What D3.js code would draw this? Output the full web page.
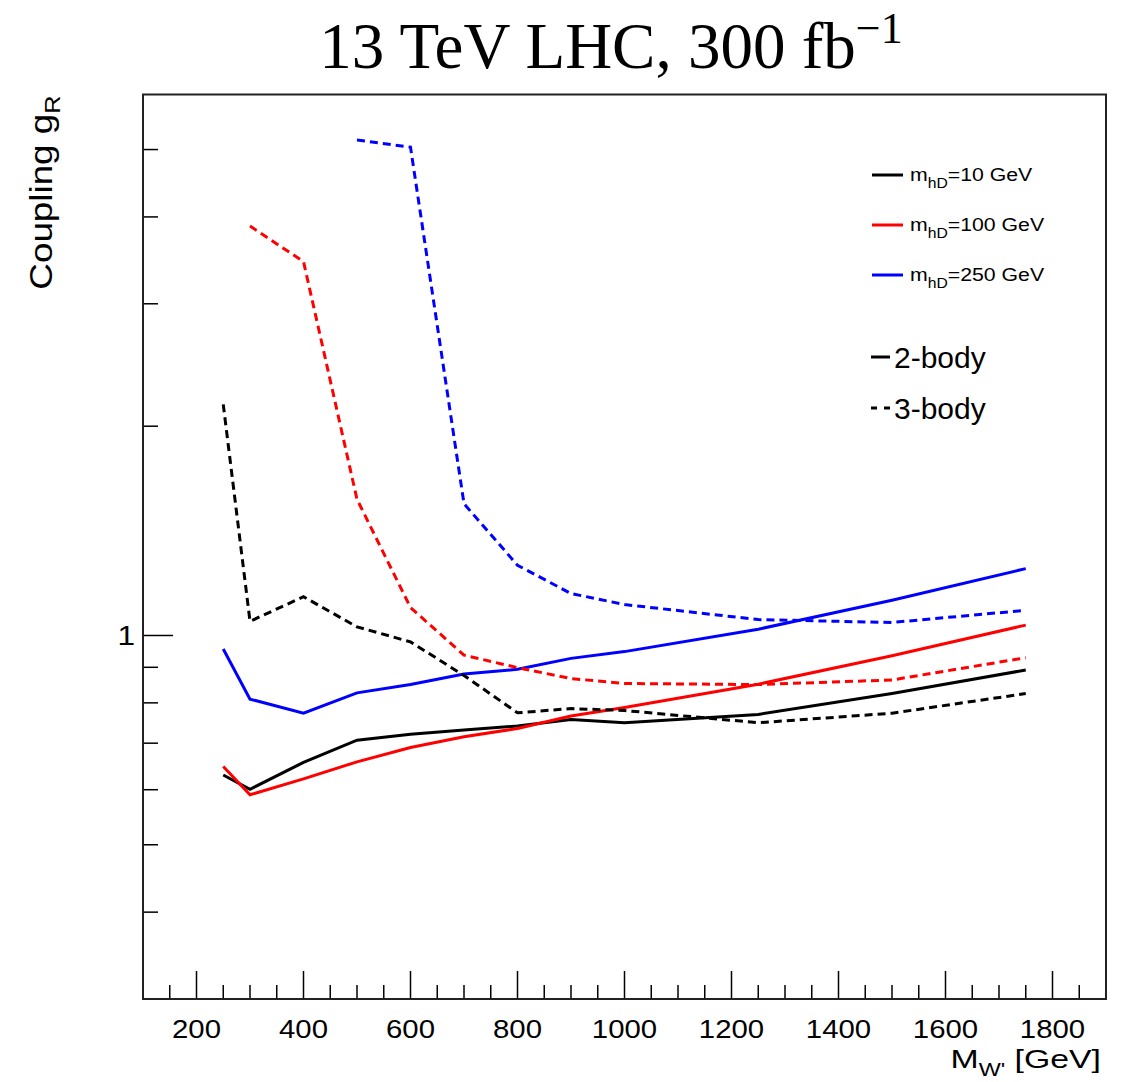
<!DOCTYPE html>
<html>
<head>
<meta charset="utf-8">
<script src="https://cdn.jsdelivr.net/npm/d3@7"></script>
<style>
  body { margin: 0; background: #fff; }
  svg text { font-family: "Liberation Sans", Arial, Helvetica, sans-serif; }
</style>
</head>
<body>
<svg id="chart"></svg>
<script>
const width = 1124;
const height = 1082;
const frame = { left: 143, right: 1106, top: 94.5, bottom: 999 };

// W' mass points (GeV)
const mass2body = [250, 300, 400, 500, 600, 700, 800, 900, 1000, 1250, 1500, 1750];
const mass10_3body = [250, 300, 400, 500, 600, 700, 800, 900, 1000, 1250, 1500, 1750];
const mass100_3body = [300, 400, 500, 600, 700, 800, 900, 1000, 1250, 1500, 1750];
const mass250_3body = [500, 600, 700, 800, 900, 1000, 1250, 1500, 1750];

// coupling limits g_R
const g10_2body = [0.630, 0.601, 0.657, 0.707, 0.721, 0.731, 0.741, 0.757, 0.749, 0.770, 0.825, 0.892];
const g100_2body = [0.648, 0.590, 0.622, 0.658, 0.690, 0.715, 0.735, 0.766, 0.788, 0.851, 0.935, 1.035];
const g250_2body = [0.956, 0.810, 0.773, 0.827, 0.850, 0.880, 0.894, 0.927, 0.948, 1.021, 1.124, 1.248];
const g10_3body = [2.15, 1.048, 1.137, 1.029, 0.979, 0.876, 0.774, 0.785, 0.780, 0.749, 0.773, 0.825];
const g100_3body = [3.88, 3.45, 1.57, 1.097, 0.937, 0.899, 0.867, 0.853, 0.850, 0.863, 0.929];
const g250_3body = [5.16, 5.04, 1.547, 1.262, 1.149, 1.108, 1.054, 1.044, 1.087];

const xTicksMajor = [200, 400, 600, 800, 1000, 1200, 1400, 1600, 1800];
const yTicksMinor = [0.4, 0.5, 0.6, 0.7, 0.8, 0.9, 2, 3, 4, 5];
const yTicksMajor = [1];

const legendMasses = ["10", "100", "250"];
const legendColors = ["#000000", "#ff0000", "#0000ff"];

const svg = d3.select("#chart")
  .attr("width", width)
  .attr("height", height);

const xScale = d3.scaleLinear()
  .domain([100, 1900])
  .range([frame.left, frame.right]);

const yScale = d3.scaleLog()
  .domain([0.3, 6])
  .range([frame.bottom, frame.top]);

// title
const title = svg.append("text")
  .attr("x", 611)
  .attr("y", 68)
  .attr("text-anchor", "middle")
  .style("font-family", "'Liberation Serif', 'Times New Roman', serif")
  .style("font-size", "65px");
title.append("tspan").text("13 TeV LHC, 300 fb");
title.append("tspan").attr("dy", -25).style("font-size", "44px").text("\u22121");

// x ticks (inward, from bottom)
const xMinor = d3.range(150, 1900, 50).filter(v => v % 200 !== 0);
svg.append("g").selectAll("line")
  .data(xMinor)
  .enter()
  .append("line")
  .attr("x1", d => xScale(d))
  .attr("x2", d => xScale(d))
  .attr("y1", frame.bottom)
  .attr("y2", frame.bottom - 14)
  .attr("stroke", "#000")
  .attr("stroke-width", 1.5);

svg.append("g").selectAll("line")
  .data(xTicksMajor)
  .enter()
  .append("line")
  .attr("x1", d => xScale(d))
  .attr("x2", d => xScale(d))
  .attr("y1", frame.bottom)
  .attr("y2", frame.bottom - 28)
  .attr("stroke", "#000")
  .attr("stroke-width", 1.5);

svg.append("g").selectAll("text")
  .data(xTicksMajor)
  .enter()
  .append("text")
  .attr("transform", d => "translate(" + xScale(d) + ",1038) scale(1.13,1)")
  .attr("text-anchor", "middle")
  .style("font-size", "26px")
  .text(d => d);

// y ticks (inward, from left)
svg.append("g").selectAll("line")
  .data(yTicksMinor)
  .enter()
  .append("line")
  .attr("x1", frame.left)
  .attr("x2", frame.left + 15)
  .attr("y1", d => yScale(d))
  .attr("y2", d => yScale(d))
  .attr("stroke", "#000")
  .attr("stroke-width", 1.5);

svg.append("g").selectAll("line")
  .data(yTicksMajor)
  .enter()
  .append("line")
  .attr("x1", frame.left)
  .attr("x2", frame.left + 30)
  .attr("y1", d => yScale(d))
  .attr("y2", d => yScale(d))
  .attr("stroke", "#000")
  .attr("stroke-width", 1.5);

svg.append("g").selectAll("text")
  .data(yTicksMajor)
  .enter()
  .append("text")
  .attr("transform", d => "translate(135," + (yScale(d) + 10) + ") scale(1.13,1)")
  .attr("text-anchor", "end")
  .style("font-size", "28px")
  .text(d => d);

// frame
svg.append("rect")
  .attr("x", frame.left)
  .attr("y", frame.top)
  .attr("width", frame.right - frame.left)
  .attr("height", frame.bottom - frame.top)
  .attr("fill", "none")
  .attr("stroke", "#222")
  .attr("stroke-width", 2);

// axis titles
const xTitle = svg.append("text")
  .attr("transform", "translate(1101,1068) scale(1.3,1)")
  .attr("text-anchor", "end")
  .style("font-size", "26px");
xTitle.append("tspan").text("M");
xTitle.append("tspan").attr("dy", 8).style("font-size", "18px").text("W'");
xTitle.append("tspan").attr("dy", -8).text(" [GeV]");

const yTitle = svg.append("text")
  .attr("transform", "translate(52," + (frame.top + 1) + ") rotate(-90) scale(1.15,1)")
  .attr("text-anchor", "end")
  .style("font-size", "32px");
yTitle.append("tspan").text("Coupling g");
yTitle.append("tspan").attr("dy", 8).style("font-size", "22px").text("R");

// curves
const line = d3.line()
  .x(d => xScale(d[0]))
  .y(d => yScale(d[1]));

const curves = [
  { x: mass2body, y: g10_2body, color: legendColors[0], dash: null },
  { x: mass2body, y: g100_2body, color: legendColors[1], dash: null },
  { x: mass2body, y: g250_2body, color: legendColors[2], dash: null },
  { x: mass10_3body, y: g10_3body, color: legendColors[0], dash: "8,5" },
  { x: mass100_3body, y: g100_3body, color: legendColors[1], dash: "8,5" },
  { x: mass250_3body, y: g250_3body, color: legendColors[2], dash: "8,5" }
];

svg.append("g").selectAll("path")
  .data(curves)
  .enter()
  .append("path")
  .attr("d", c => line(d3.zip(c.x, c.y)))
  .attr("fill", "none")
  .attr("stroke", c => c.color)
  .attr("stroke-width", 3)
  .attr("stroke-dasharray", c => c.dash);

// legend: masses
const legend = svg.append("g");
legendMasses.forEach((m, i) => {
  const ly = 175 + i * 50;
  legend.append("line")
    .attr("x1", 872).attr("x2", 903)
    .attr("y1", ly).attr("y2", ly)
    .attr("stroke", legendColors[i])
    .attr("stroke-width", 3);
  const t = legend.append("text")
    .attr("transform", "translate(910," + (ly + 6) + ") scale(1.12,1)")
    .style("font-size", "19px");
  t.append("tspan").text("m");
  t.append("tspan").attr("dy", 7).style("font-size", "14px").text("hD");
  t.append("tspan").attr("dy", -7).text("=" + m + " GeV");
});

// legend: line styles
const styles = [
  { label: "2-body", dash: null, y: 357 },
  { label: "3-body", dash: "8,5", y: 408 }
];
styles.forEach(s => {
  legend.append("line")
    .attr("x1", 871).attr("x2", 890)
    .attr("y1", s.y).attr("y2", s.y)
    .attr("stroke", "#000")
    .attr("stroke-width", 3)
    .attr("stroke-dasharray", s.dash ? "6,7" : null);
  legend.append("text")
    .attr("x", 894)
    .attr("y", s.y + 11)
    .style("font-size", "30px")
    .text(s.label);
});
</script>
</body>
</html>
